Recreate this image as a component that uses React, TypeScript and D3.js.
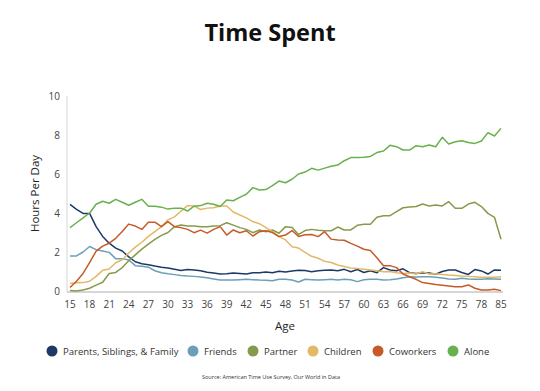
import React from "react";
import * as d3 from "d3";

const ages: number[] = [
  15, 16, 17, 18, 19, 20, 21, 22, 23, 24, 25, 26, 27, 28, 29, 30, 31, 32, 33, 34,
  35, 36, 37, 38, 39, 40, 41, 42, 43, 44, 45, 46, 47, 48, 49, 50, 51, 52, 53, 54,
  55, 56, 57, 58, 59, 60, 61, 62, 63, 64, 65, 66, 67, 68, 69, 70, 71, 72, 73, 74,
  75, 76, 77, 78, 79, 80, 85,
];

const family: number[] = [
  4.44, 4.19, 3.98, 3.98, 3.3, 2.8, 2.45, 2.2, 2.05, 1.75, 1.5, 1.4, 1.35, 1.28, 1.22, 1.18, 1.12, 1.05, 1.1, 1.08,
  1.04, 0.96, 0.92, 0.87, 0.88, 0.92, 0.9, 0.87, 0.94, 0.93, 0.97, 0.94, 1.01, 0.97, 1.02, 1.06, 1.05, 0.99, 1.04, 1.06,
  1.08, 1.04, 1.11, 0.99, 1.1, 0.95, 1.04, 0.94, 1.2, 1.08, 1.04, 1.14, 0.94, 0.9, 0.94, 0.92, 0.86, 1.0, 1.08, 1.08,
  0.95, 0.85, 1.1, 1.03, 0.87, 1.08, 1.06,
];

const friends: number[] = [
  1.8, 1.8, 2.0, 2.28, 2.12, 2.05, 1.98, 1.66, 1.66, 1.59, 1.3, 1.27, 1.22, 1.04, 0.94, 0.88, 0.84, 0.8, 0.77, 0.75,
  0.72, 0.68, 0.62, 0.56, 0.57, 0.56, 0.58, 0.6, 0.58, 0.56, 0.55, 0.53, 0.6, 0.6, 0.56, 0.46, 0.6, 0.58, 0.56, 0.58,
  0.6, 0.56, 0.6, 0.58, 0.48, 0.58, 0.6, 0.6, 0.57, 0.58, 0.62, 0.68, 0.73, 0.72, 0.73, 0.73, 0.7, 0.67, 0.62, 0.6,
  0.65, 0.62, 0.6, 0.6, 0.63, 0.62, 0.6,
];

const partner: number[] = [
  0.03, 0.0, 0.05, 0.14, 0.3, 0.45, 0.9, 0.95, 1.2, 1.55, 1.85, 2.15, 2.4, 2.65, 2.85, 3.0, 3.3, 3.38, 3.33, 3.33,
  3.3, 3.3, 3.33, 3.35, 3.5, 3.38, 3.25, 3.16, 2.99, 3.13, 3.04, 3.13, 2.96, 3.3, 3.26, 2.9, 3.1, 3.16, 3.12, 3.09,
  3.09, 3.28, 3.13, 3.13, 3.37, 3.42, 3.42, 3.78, 3.86, 3.86, 4.07, 4.27, 4.31, 4.33, 4.46, 4.36, 4.41, 4.36, 4.58, 4.24,
  4.24, 4.46, 4.55, 4.33, 3.98, 3.78, 2.65,
];

const children: number[] = [
  0.39, 0.42, 0.43, 0.5, 0.75, 1.06, 1.13, 1.45, 1.6, 1.95, 2.25, 2.5, 2.8, 3.05, 3.3, 3.65, 3.8, 4.1, 4.38, 4.36,
  4.18, 4.25, 4.27, 4.36, 4.36, 4.05, 3.9, 3.75, 3.56, 3.45, 3.25, 3.04, 2.79, 2.62, 2.27, 2.2, 1.98, 1.78, 1.68, 1.52,
  1.46, 1.33, 1.26, 1.18, 1.16, 1.12, 1.08, 1.04, 0.99, 1.0, 0.94, 0.9, 0.92, 0.87, 0.99, 0.87, 0.88, 0.85, 0.82, 0.8,
  0.77, 0.75, 0.73, 0.7, 0.7, 0.7, 0.73,
];

const coworkers: number[] = [
  0.18, 0.5, 0.9, 1.45, 2.05, 2.3, 2.45, 2.7, 3.05, 3.43, 3.33, 3.16, 3.53, 3.53, 3.3, 3.56, 3.3, 3.25, 3.16, 2.99,
  3.12, 2.97, 3.16, 3.3, 2.87, 3.13, 2.99, 3.09, 2.82, 3.04, 3.09, 3.0, 2.79, 2.87, 3.1, 2.8, 2.88, 2.9, 2.79, 3.04,
  2.66, 2.62, 2.6, 2.44, 2.3, 2.14, 2.08, 1.7, 1.3, 1.3, 1.2, 0.87, 0.73, 0.6, 0.43, 0.39, 0.33, 0.3, 0.26, 0.22,
  0.22, 0.31, 0.14, 0.05, 0.05, 0.09, 0.02,
];

const alone: number[] = [
  3.25, 3.5, 3.75, 4.0, 4.45, 4.6, 4.5, 4.7, 4.55, 4.4, 4.55, 4.7, 4.35, 4.35, 4.3, 4.2, 4.25, 4.25, 4.1, 4.35,
  4.38, 4.5, 4.45, 4.33, 4.67, 4.63, 4.8, 4.96, 5.3, 5.18, 5.2, 5.4, 5.64, 5.55, 5.73, 6.0, 6.1, 6.29, 6.2, 6.3,
  6.4, 6.46, 6.68, 6.84, 6.85, 6.86, 6.9, 7.1, 7.18, 7.47, 7.4, 7.23, 7.23, 7.45, 7.4, 7.49, 7.4, 7.88, 7.54, 7.65,
  7.71, 7.62, 7.57, 7.69, 8.12, 7.95, 8.34,
];

const seriesNames: string[] = ["Parents, Siblings, & Family", "Friends", "Partner", "Children", "Coworkers", "Alone"];
const seriesColors: string[] = ["#1d3a66", "#6b9fba", "#869a4c", "#e3b866", "#c75a28", "#69b04e"];
const yTicks: number[] = [0, 2, 4, 6, 8, 10];

const W = 540;
const H = 391;
const FONT = "'Open Sans', 'DejaVu Sans', sans-serif";
const legendX = [52, 193, 253, 313, 378, 453];

export default function App() {
  const allSeries = [family, friends, partner, children, coworkers, alone];
  const x = d3.scaleLinear().domain([0, ages.length - 1]).range([70, 501]);
  const y = d3.scaleLinear().domain([0, 10]).range([291, 96]);
  const line = d3
    .line<number>()
    .x((_, i) => x(i))
    .y((d) => y(d));
  const tickIdx = ages.map((_, i) => i).filter((i) => i % 3 === 0 || i === ages.length - 1);

  return (
    <svg
      width={W}
      height={H}
      style={{ position: "absolute", left: 0, top: 0, background: "#fff" }}
      fontFamily={FONT}
    >
      <text x={270} y={41} textAnchor="middle" fontSize={23.5} fontWeight={700} fill="#111">
        Time Spent
      </text>

      <line x1={67} x2={67} y1={96} y2={292} stroke="#d6d6d6" strokeWidth={1} />
      <line x1={67} x2={503} y1={292} y2={292} stroke="#d6d6d6" strokeWidth={2} />

      {yTicks.map((t) => (
        <text key={t} x={60} y={y(t) + 3.5} textAnchor="end" fontSize={10} fill="#444">
          {t}
        </text>
      ))}
      <text
        transform={`translate(39,${y(5)}) rotate(-90)`}
        textAnchor="middle"
        fontSize={11.5}
        fill="#222"
      >
        Hours Per Day
      </text>

      {tickIdx.map((i) => (
        <text key={i} x={x(i)} y={308} textAnchor="middle" fontSize={10} fill="#444">
          {ages[i]}
        </text>
      ))}
      <text x={285} y={330} textAnchor="middle" fontSize={11.5} fill="#222">
        Age
      </text>

      {allSeries.map((s, k) => (
        <path key={k} d={line(s) || ""} fill="none" stroke={seriesColors[k]} strokeWidth={1.5} strokeLinejoin="round" />
      ))}

      {seriesNames.map((n, k) => (
        <g key={n} transform={`translate(${legendX[k]},351)`}>
          <circle r={5.5} fill={seriesColors[k]} />
          <text x={11} y={3.5} fontSize={9.5} fill="#333">
            {n}
          </text>
        </g>
      ))}

      <text x={271} y={379} textAnchor="middle" fontSize={5.5} fill="#333">
        Source: American Time Use Survey, Our World in Data
      </text>
    </svg>
  );
}
